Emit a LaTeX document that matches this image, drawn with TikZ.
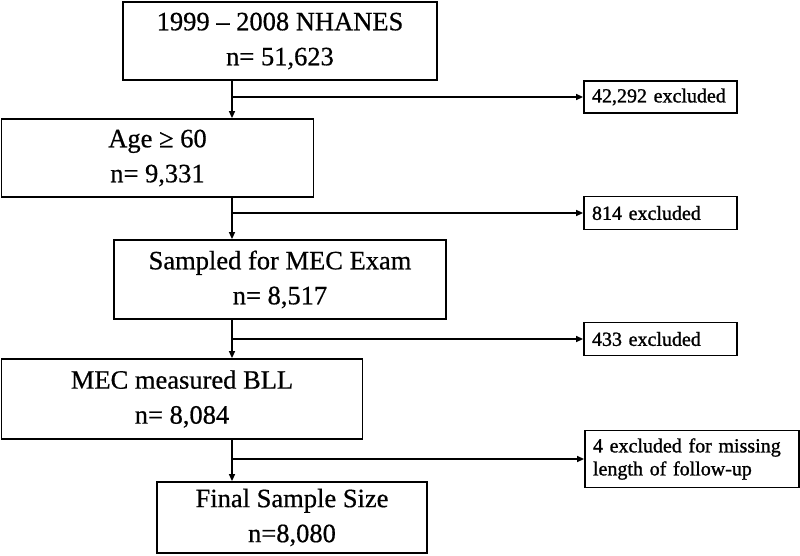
\documentclass[tikz,border=0pt]{standalone}
\usepackage{fontspec}
\setmainfont{Liberation Serif}
\newfontfamily\bigfnt[Ligatures=TeX,FakeBold=0.6]{Liberation Serif}
\newfontfamily\smallfnt[Ligatures=TeX,FakeBold=1.2]{Liberation Serif}
\usetikzlibrary{arrows.meta}
\tikzset{
  bigbox/.style={draw, line width=1.8pt, align=center, inner sep=0pt,
    font=\bigfnt\fontsize{26.5}{35}\selectfont},
  exbox/.style={draw, line width=1.8pt, align=left, inner xsep=8pt, inner ysep=0pt,
    font=\smallfnt\fontsize{20}{23}\selectfont},
  arr/.style={line width=1.3pt, -{Triangle[length=7pt,width=6pt]}}
}
\begin{document}
\begin{tikzpicture}[x=1pt,y=-1pt]
\useasboundingbox (0,0) rectangle (800,555);
% main boxes
\node[bigbox, minimum width=314pt, minimum height=78pt] (b1) at (280,41) {1999 – 2008 NHANES\\n= 51,623};
\node[bigbox, minimum width=312pt, minimum height=78pt] (b2) at (157.5,158) {Age ≥ 60\\n= 9,331};
\node[bigbox, minimum width=332pt, minimum height=79pt] (b3) at (280,279.5) {Sampled for MEC Exam\\n= 8,517};
\node[bigbox, minimum width=361pt, minimum height=80pt] (b4) at (182,399) {MEC measured BLL\\n= 8,084};
\node[bigbox, minimum width=270pt, minimum height=71pt] (b5) at (292,517.5) {Final Sample Size\\n=8,080};
% exclusion boxes
\node[exbox, text width=137pt, minimum height=32pt] (e1) at (660.5,97) {42,292 excluded};
\node[exbox, text width=137pt, minimum height=33pt] (e2) at (660.5,213) {814 excluded};
\node[exbox, text width=137pt, minimum height=33pt] (e3) at (660.5,339) {433 excluded};
\node[exbox, text width=198pt, minimum height=57pt] (e4) at (692,459) {4 excluded for missing\\length of follow-up};
% junctions
\coordinate (j1) at (232,97);
\coordinate (j2) at (232,213);
\coordinate (j3) at (232,339);
\coordinate (j4) at (232,459);
% vertical arrows
\draw[arr] (b1.south -| j1) -- (b2.north -| j1);
\draw[arr] (b2.south -| j2) -- (b3.north -| j2);
\draw[arr] (b3.south -| j3) -- (b4.north -| j3);
\draw[arr] (b4.south -| j4) -- (b5.north -| j4);
% branch arrows
\draw[arr] (j1) -- (e1.west);
\draw[arr] (j2) -- (e2.west);
\draw[arr] (j3) -- (e3.west);
\draw[arr] (j4) -- (e4.west);
\end{tikzpicture}
\end{document}
